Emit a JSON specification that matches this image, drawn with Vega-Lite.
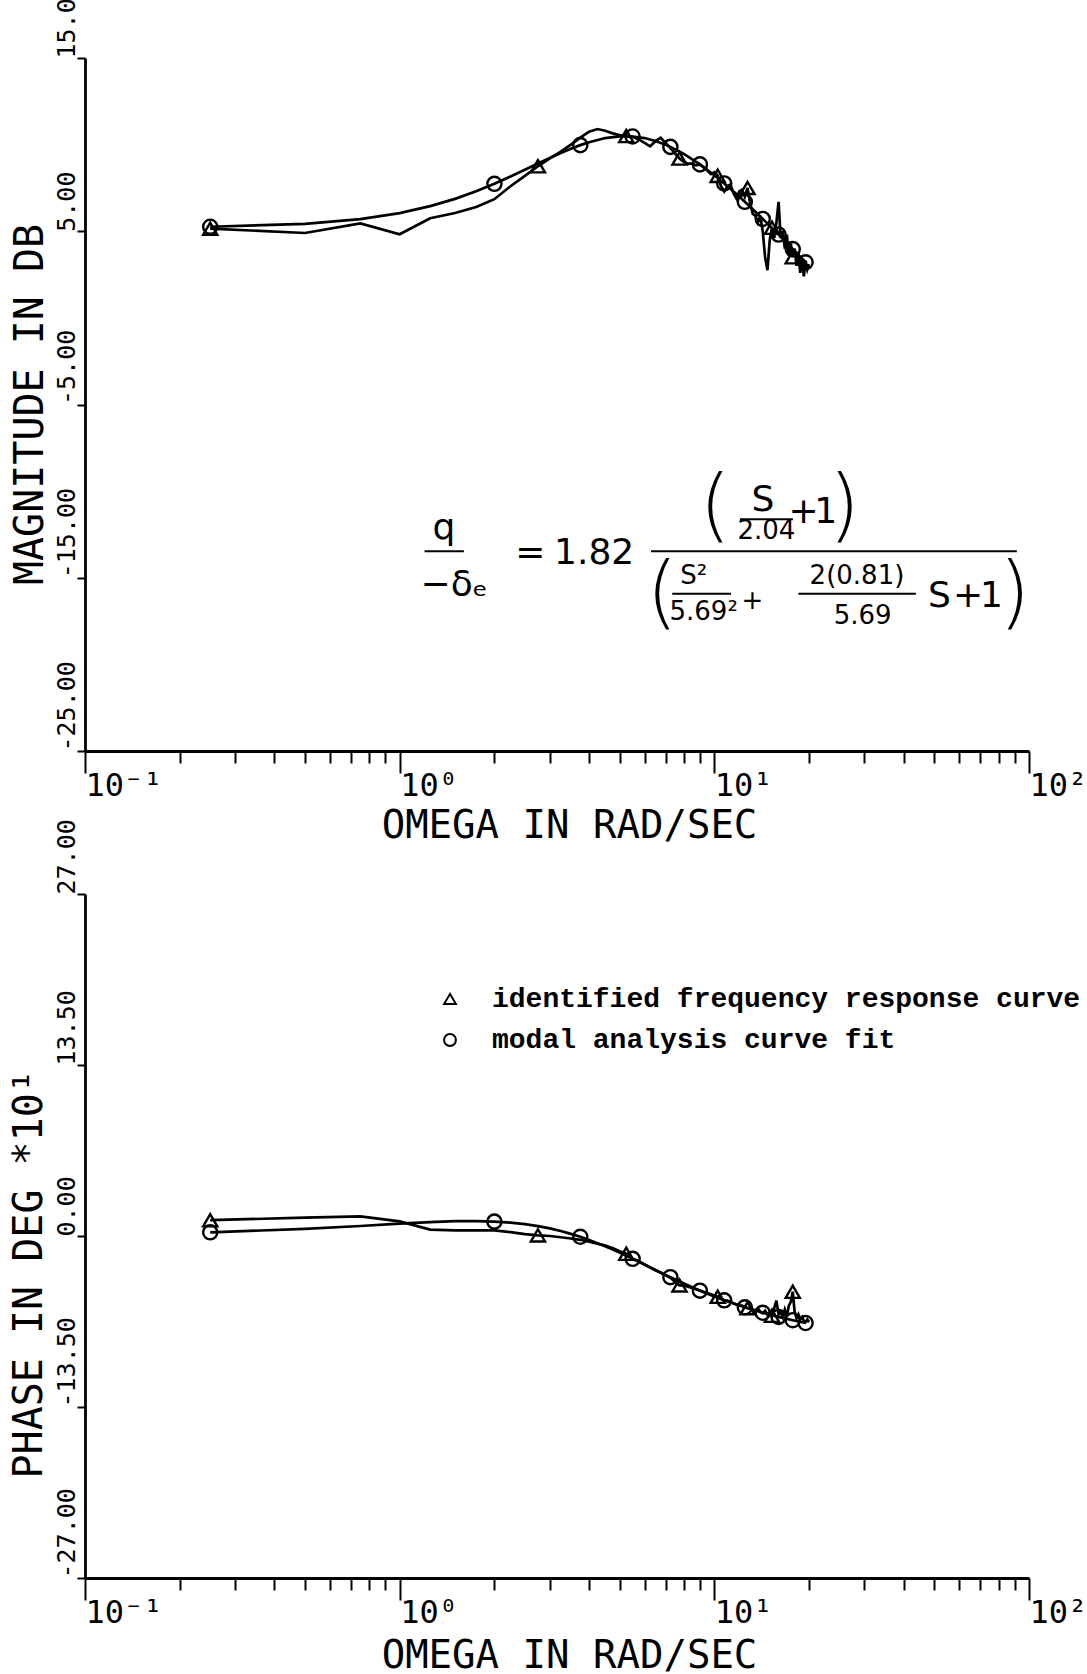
{
  "$schema": "https://vega.github.io/schema/vega-lite/v6.json",
  "background": "white",
  "padding": {"left": 8, "top": -18, "right": 0, "bottom": 0},
  "bounds": "flush",
  "spacing": 143,
  "resolve": {"scale": {"shape": "independent"}, "legend": {"shape": "independent"}},
  "config": {
    "view": {"stroke": null},
    "axis": {
      "domainColor": "black", "domainWidth": 2.8, "tickColor": "black", "tickWidth": 2,
      "labelColor": "black", "titleColor": "black",
      "labelFont": "DejaVu Sans Mono", "titleFont": "DejaVu Sans Mono",
      "titleFontWeight": "normal", "grid": false,
      "labelFlush": false, "labelOverlap": false, "labelBound": false
    }
  },
  "datasets": {
    "bode": [
      {"omega": 0.25, "series": "identified", "mag": 5.15, "phase": 12.5},
      {"omega": 0.5, "series": "identified", "mag": 4.9, "phase": 14.5},
      {"omega": 0.75, "series": "identified", "mag": 5.45, "phase": 15.5},
      {"omega": 1.0, "series": "identified", "mag": 4.83, "phase": 11.5},
      {"omega": 1.25, "series": "identified", "mag": 5.75, "phase": 5.0},
      {"omega": 1.5, "series": "identified", "mag": 6.05, "phase": 4.5},
      {"omega": 1.75, "series": "identified", "mag": 6.4, "phase": 4.5},
      {"omega": 2.0, "series": "identified", "mag": 6.85, "phase": 4.5},
      {"omega": 2.25, "series": "identified", "mag": 7.6, "phase": 3.0},
      {"omega": 2.5, "series": "identified", "mag": 8.2, "phase": 1.5},
      {"omega": 2.75, "series": "identified", "mag": 8.75, "phase": 0.5},
      {"omega": 3.0, "series": "identified", "mag": 9.2, "phase": 0.0},
      {"omega": 3.25, "series": "identified", "mag": 9.6, "phase": -1.0},
      {"omega": 3.5, "series": "identified", "mag": 10.0, "phase": -2.0},
      {"omega": 3.75, "series": "identified", "mag": 10.4, "phase": -3.0},
      {"omega": 4.0, "series": "identified", "mag": 10.75, "phase": -4.5},
      {"omega": 4.25, "series": "identified", "mag": 10.9, "phase": -6.0},
      {"omega": 4.5, "series": "identified", "mag": 10.8, "phase": -7.5},
      {"omega": 4.75, "series": "identified", "mag": 10.65, "phase": -9.5},
      {"omega": 5.0, "series": "identified", "mag": 10.55, "phase": -12.0},
      {"omega": 5.25, "series": "identified", "mag": 10.5, "phase": -14.0},
      {"omega": 5.5, "series": "identified", "mag": 10.45, "phase": -18.0},
      {"omega": 5.75, "series": "identified", "mag": 10.3, "phase": -20.0},
      {"omega": 6.0, "series": "identified", "mag": 10.1, "phase": -22.5},
      {"omega": 6.25, "series": "identified", "mag": 9.9, "phase": -25.0},
      {"omega": 6.5, "series": "identified", "mag": 10.2, "phase": -27.0},
      {"omega": 6.75, "series": "identified", "mag": 10.4, "phase": -29.0},
      {"omega": 7.0, "series": "identified", "mag": 10.1, "phase": -31.0},
      {"omega": 7.25, "series": "identified", "mag": 9.8, "phase": -33.0},
      {"omega": 7.5, "series": "identified", "mag": 9.5, "phase": -36.0},
      {"omega": 7.75, "series": "identified", "mag": 9.2, "phase": -39.0},
      {"omega": 8.0, "series": "identified", "mag": 9.0, "phase": -39.0},
      {"omega": 8.25, "series": "identified", "mag": 8.9, "phase": -40.0},
      {"omega": 8.5, "series": "identified", "mag": 8.9, "phase": -41.0},
      {"omega": 8.75, "series": "identified", "mag": 8.8, "phase": -42.0},
      {"omega": 9.0, "series": "identified", "mag": 8.85, "phase": -43.0},
      {"omega": 9.25, "series": "identified", "mag": 8.7, "phase": -44.0},
      {"omega": 9.5, "series": "identified", "mag": 8.5, "phase": -45.0},
      {"omega": 9.75, "series": "identified", "mag": 8.3, "phase": -46.0},
      {"omega": 10.0, "series": "identified", "mag": 8.4, "phase": -47.0},
      {"omega": 10.25, "series": "identified", "mag": 8.2, "phase": -48.0},
      {"omega": 10.5, "series": "identified", "mag": 7.6, "phase": -49.5},
      {"omega": 10.75, "series": "identified", "mag": 7.3, "phase": -51.0},
      {"omega": 11.0, "series": "identified", "mag": 7.6, "phase": -51.0},
      {"omega": 11.25, "series": "identified", "mag": 7.7, "phase": -52.0},
      {"omega": 11.5, "series": "identified", "mag": 7.2, "phase": -53.0},
      {"omega": 11.75, "series": "identified", "mag": 6.9, "phase": -54.0},
      {"omega": 12.0, "series": "identified", "mag": 7.3, "phase": -55.0},
      {"omega": 12.25, "series": "identified", "mag": 7.4, "phase": -55.0},
      {"omega": 12.5, "series": "identified", "mag": 7.0, "phase": -56.0},
      {"omega": 12.75, "series": "identified", "mag": 7.5, "phase": -57.0},
      {"omega": 13.0, "series": "identified", "mag": 6.6, "phase": -57.0},
      {"omega": 13.25, "series": "identified", "mag": 6.0, "phase": -58.0},
      {"omega": 13.5, "series": "identified", "mag": 5.9, "phase": -59.0},
      {"omega": 13.75, "series": "identified", "mag": 5.5, "phase": -57.0},
      {"omega": 14.0, "series": "identified", "mag": 5.9, "phase": -60.0},
      {"omega": 14.25, "series": "identified", "mag": 5.0, "phase": -61.0},
      {"omega": 14.5, "series": "identified", "mag": 3.5, "phase": -59.0},
      {"omega": 14.75, "series": "identified", "mag": 2.75, "phase": -62.0},
      {"omega": 15.0, "series": "identified", "mag": 4.5, "phase": -60.0},
      {"omega": 15.25, "series": "identified", "mag": 5.2, "phase": -63.0},
      {"omega": 15.5, "series": "identified", "mag": 4.6, "phase": -57.0},
      {"omega": 15.75, "series": "identified", "mag": 5.5, "phase": -51.0},
      {"omega": 16.0, "series": "identified", "mag": 6.7, "phase": -62.0},
      {"omega": 16.25, "series": "identified", "mag": 4.6, "phase": -60.0},
      {"omega": 16.5, "series": "identified", "mag": 5.0, "phase": -64.0},
      {"omega": 16.75, "series": "identified", "mag": 4.0, "phase": -58.0},
      {"omega": 17.0, "series": "identified", "mag": 4.8, "phase": -63.0},
      {"omega": 17.25, "series": "identified", "mag": 3.6, "phase": -55.0},
      {"omega": 17.5, "series": "identified", "mag": 4.3, "phase": -52.0},
      {"omega": 17.75, "series": "identified", "mag": 3.5, "phase": -44.0},
      {"omega": 18.0, "series": "identified", "mag": 4.0, "phase": -60.0},
      {"omega": 18.25, "series": "identified", "mag": 3.0, "phase": -65.0},
      {"omega": 18.5, "series": "identified", "mag": 3.8, "phase": -62.0},
      {"omega": 18.75, "series": "identified", "mag": 2.6, "phase": -66.0},
      {"omega": 19.0, "series": "identified", "mag": 3.4, "phase": -64.0},
      {"omega": 19.25, "series": "identified", "mag": 2.4, "phase": -67.0},
      {"omega": 19.5, "series": "identified", "mag": 3.3, "phase": -68.0},
      {"omega": 19.75, "series": "identified", "mag": 2.8, "phase": -66.0},
      {"omega": 20.0, "series": "identified", "mag": 3.1, "phase": -68.0},
      {"omega": 0.25, "series": "modal", "mag": 5.26, "phase": 2.9},
      {"omega": 0.5, "series": "modal", "mag": 5.43, "phase": 5.6},
      {"omega": 0.75, "series": "modal", "mag": 5.70, "phase": 7.9},
      {"omega": 1.0, "series": "modal", "mag": 6.05, "phase": 9.8},
      {"omega": 1.25, "series": "modal", "mag": 6.45, "phase": 11.0},
      {"omega": 1.5, "series": "modal", "mag": 6.87, "phase": 11.7},
      {"omega": 1.75, "series": "modal", "mag": 7.31, "phase": 11.8},
      {"omega": 2.0, "series": "modal", "mag": 7.74, "phase": 11.4},
      {"omega": 2.25, "series": "modal", "mag": 8.16, "phase": 10.6},
      {"omega": 2.5, "series": "modal", "mag": 8.55, "phase": 9.4},
      {"omega": 2.75, "series": "modal", "mag": 8.91, "phase": 7.8},
      {"omega": 3.0, "series": "modal", "mag": 9.23, "phase": 6.0},
      {"omega": 3.25, "series": "modal", "mag": 9.52, "phase": 3.9},
      {"omega": 3.5, "series": "modal", "mag": 9.76, "phase": 1.7},
      {"omega": 3.75, "series": "modal", "mag": 9.97, "phase": -0.6},
      {"omega": 4.0, "series": "modal", "mag": 10.14, "phase": -3.1},
      {"omega": 4.5, "series": "modal", "mag": 10.38, "phase": -8.1},
      {"omega": 5.0, "series": "modal", "mag": 10.48, "phase": -13.1},
      {"omega": 5.5, "series": "modal", "mag": 10.47, "phase": -18.0},
      {"omega": 6.0, "series": "modal", "mag": 10.38, "phase": -22.5},
      {"omega": 6.5, "series": "modal", "mag": 10.21, "phase": -26.8},
      {"omega": 7.0, "series": "modal", "mag": 10.0, "phase": -30.7},
      {"omega": 7.25, "series": "modal", "mag": 9.87, "phase": -32.5},
      {"omega": 8.0, "series": "modal", "mag": 9.46, "phase": -37.5},
      {"omega": 9.0, "series": "modal", "mag": 8.86, "phase": -43.2},
      {"omega": 10.0, "series": "modal", "mag": 8.23, "phase": -47.8},
      {"omega": 10.75, "series": "modal", "mag": 7.76, "phase": -50.8},
      {"omega": 12.0, "series": "modal", "mag": 7.0, "phase": -54.9},
      {"omega": 12.5, "series": "modal", "mag": 6.7, "phase": -56.3},
      {"omega": 14.0, "series": "modal", "mag": 5.85, "phase": -60.0},
      {"omega": 14.25, "series": "modal", "mag": 5.71, "phase": -60.6},
      {"omega": 16.0, "series": "modal", "mag": 4.81, "phase": -63.9},
      {"omega": 17.75, "series": "modal", "mag": 3.97, "phase": -66.5},
      {"omega": 19.5, "series": "modal", "mag": 3.21, "phase": -68.7}
    ],
    "formula_main": [
      {"omega": 1.383, "mag": -12.1, "text": "q"},
      {"omega": 1.49, "mag": -15.4, "text": "−δₑ"},
      {"omega": 2.6, "mag": -13.6, "text": "="},
      {"omega": 4.15, "mag": -13.6, "text": "1.82"},
      {"omega": 14.27, "mag": -10.5, "text": "S"},
      {"omega": 19.2, "mag": -11.2, "text": "+"},
      {"omega": 22.6, "mag": -11.2, "text": "1"},
      {"omega": 51.9, "mag": -16.05, "text": "S"},
      {"omega": 64.0, "mag": -16.05, "text": "+"},
      {"omega": 76.0, "mag": -16.05, "text": "1"}
    ],
    "formula_small": [
      {"omega": 14.64, "mag": -12.3, "text": "2.04"},
      {"omega": 8.6, "mag": -14.9, "text": "S²"},
      {"omega": 9.25, "mag": -17.0, "text": "5.69²"},
      {"omega": 13.2, "mag": -16.35, "text": "+"},
      {"omega": 28.4, "mag": -14.9, "text": "2(0.81)"},
      {"omega": 29.6, "mag": -17.2, "text": "5.69"}
    ],
    "formula_paren": [
      {"omega": 10.05, "mag": -11.0, "text": "("},
      {"omega": 25.9, "mag": -11.0, "text": ")"},
      {"omega": 6.82, "mag": -16.0, "text": "("},
      {"omega": 90.0, "mag": -16.0, "text": ")"}
    ],
    "formula_bars": [
      {"omega": 1.2, "omega2": 1.6, "mag": -13.47},
      {"omega": 6.29, "omega2": 91.5, "mag": -13.47},
      {"omega": 12.06, "omega2": 17.77, "mag": -11.62},
      {"omega": 7.35, "omega2": 11.3, "mag": -15.92},
      {"omega": 18.5, "omega2": 43.7, "mag": -15.92}
    ]
  },
  "vconcat": [
    {
      "width": 944,
      "height": 693,
      "encoding": {
        "x": {
          "field": "omega", "type": "quantitative",
          "scale": {"type": "log", "domain": [0.1, 100], "nice": false},
          "axis": {
            "values": [0.1,0.2,0.3,0.4,0.5,0.6,0.7,0.8,0.9,1,2,3,4,5,6,7,8,9,10,20,30,40,50,60,70,80,90,100],
            "tickSize": {"condition": {"test": "datum.value == 0.1 || datum.value == 1 || datum.value == 10 || datum.value == 100", "value": 22}, "value": 12},
            "labelExpr": "datum.value == 0.1 ? '10⁻¹' : datum.value == 1 ? '10⁰' : datum.value == 10 ? '10¹' : datum.value == 100 ? '10²' : ''",
            "labelAlign": "left", "labelBaseline": "top", "labelFontSize": 32, "labelPadding": -3,
            "title": "OMEGA IN RAD/SEC", "titleFontSize": 39,
            "titleX": 484, "titleY": 86, "titleBaseline": "alphabetic", "titleAlign": "center"
          }
        },
        "y": {
          "field": "mag", "type": "quantitative",
          "scale": {"domain": [-25, 15], "nice": false, "zero": false},
          "axis": {
            "values": [15, 5, -5, -15, -25],
            "labelExpr": "datum.value == 15 ? '15.00' : datum.value == 5 ? '5.00' : datum.value == -5 ? '-5.00' : datum.value == -15 ? '-15.00' : '-25.00'",
            "labelAngle": 270, "labelAlign": "left", "labelBaseline": "alphabetic",
            "labelFontSize": 25, "labelPadding": 3, "tickSize": 8,
            "title": "MAGNITUDE IN DB", "titleFontSize": 40, "titleAngle": 270,
            "titleAlign": "center", "titleBaseline": "alphabetic", "titleX": -43, "titleY": 346
          }
        }
      },
      "layer": [
        {
          "data": {"name": "bode"},
          "mark": {"type": "line", "color": "black", "strokeWidth": 2.7},
          "encoding": {"detail": {"field": "series"}}
        },
        {
          "data": {"name": "bode"},
          "transform": [{"filter": "(datum.series == 'identified' && indexof([0.25,2.75,5.25,7.75,10.25,12.75,15.25,17.75], datum.omega) >= 0) || (datum.series == 'modal' && indexof([0.25,2,3.75,5.5,7.25,9,10.75,12.5,14.25,16,17.75,19.5], datum.omega) >= 0)"}],
          "mark": {"type": "point", "filled": false, "color": "black", "strokeWidth": 2.4, "size": 200, "opacity": 1},
          "encoding": {
            "shape": {"field": "series", "type": "nominal", "scale": {"domain": ["identified", "modal"], "range": ["triangle-up", "circle"]}, "legend": null}
          }
        },
        {
          "data": {"name": "formula_main"},
          "mark": {"type": "text", "font": "DejaVu Sans", "fontSize": 36, "color": "black", "align": "center", "baseline": "middle"},
          "encoding": {"text": {"field": "text"}}
        },
        {
          "data": {"name": "formula_small"},
          "mark": {"type": "text", "font": "DejaVu Sans", "fontSize": 26, "color": "black", "align": "center", "baseline": "middle"},
          "encoding": {"text": {"field": "text"}}
        },
        {
          "data": {"name": "formula_paren"},
          "mark": {"type": "text", "font": "DejaVu Sans", "fontSize": 80, "fontWeight": "lighter", "color": "black", "align": "center", "baseline": "middle"},
          "encoding": {"text": {"field": "text"}}
        },
        {
          "data": {"name": "formula_bars"},
          "mark": {"type": "rule", "color": "black", "strokeWidth": 2},
          "encoding": {"x2": {"field": "omega2"}}
        }
      ]
    },
    {
      "width": 944,
      "height": 684,
      "data": {"name": "bode"},
      "encoding": {
        "x": {
          "field": "omega", "type": "quantitative",
          "scale": {"type": "log", "domain": [0.1, 100], "nice": false},
          "axis": {
            "values": [0.1,0.2,0.3,0.4,0.5,0.6,0.7,0.8,0.9,1,2,3,4,5,6,7,8,9,10,20,30,40,50,60,70,80,90,100],
            "tickSize": {"condition": {"test": "datum.value == 0.1 || datum.value == 1 || datum.value == 10 || datum.value == 100", "value": 22}, "value": 12},
            "labelExpr": "datum.value == 0.1 ? '10⁻¹' : datum.value == 1 ? '10⁰' : datum.value == 10 ? '10¹' : datum.value == 100 ? '10²' : ''",
            "labelAlign": "left", "labelBaseline": "top", "labelFontSize": 32, "labelPadding": -3,
            "title": "OMEGA IN RAD/SEC", "titleFontSize": 39,
            "titleX": 484, "titleY": 89, "titleBaseline": "alphabetic", "titleAlign": "center"
          }
        },
        "y": {
          "field": "phase", "type": "quantitative",
          "scale": {"domain": [-270, 270], "nice": false, "zero": false},
          "axis": {
            "values": [270, 135, 0, -135, -270],
            "labelExpr": "datum.value == 270 ? '27.00' : datum.value == 135 ? '13.50' : datum.value == 0 ? '0.00' : datum.value == -135 ? '-13.50' : '-27.00'",
            "labelAngle": 270, "labelAlign": "left", "labelBaseline": "alphabetic",
            "labelFontSize": 25, "labelPadding": 3, "tickSize": 8,
            "title": "PHASE IN DEG\u00a0*10¹", "titleFontSize": 40, "titleAngle": 270,
            "titleAlign": "left", "titleBaseline": "alphabetic", "titleX": -44, "titleY": 584
          }
        }
      },
      "layer": [
        {
          "mark": {"type": "line", "color": "black", "strokeWidth": 2.7},
          "encoding": {"detail": {"field": "series"}}
        },
        {
          "transform": [{"filter": "(datum.series == 'identified' && indexof([0.25,2.75,5.25,7.75,10.25,12.75,15.25,17.75], datum.omega) >= 0) || (datum.series == 'modal' && indexof([0.25,2,3.75,5.5,7.25,9,10.75,12.5,14.25,16,17.75,19.5], datum.omega) >= 0)"}],
          "mark": {"type": "point", "filled": false, "color": "black", "strokeWidth": 2.4, "size": 200, "opacity": 1},
          "encoding": {
            "shape": {
              "field": "series", "type": "nominal",
              "scale": {"domain": ["identified", "modal"], "range": ["triangle-up", "circle"]},
              "legend": {
                "orient": "none", "legendX": 351, "legendY": 91, "title": null, "padding": 0,
                "labelExpr": "datum.label == 'identified' ? 'identified frequency response curve' : 'modal analysis curve fit'",
                "labelFont": "Liberation Mono", "labelFontWeight": "bold", "labelFontSize": 28, "labelColor": "black",
                "labelLimit": 700, "labelOffset": 28, "rowPadding": 13,
                "symbolStrokeColor": "black", "symbolStrokeWidth": 2, "symbolSize": 140, "symbolFillColor": "transparent"
              }
            }
          }
        }
      ]
    }
  ]
}
